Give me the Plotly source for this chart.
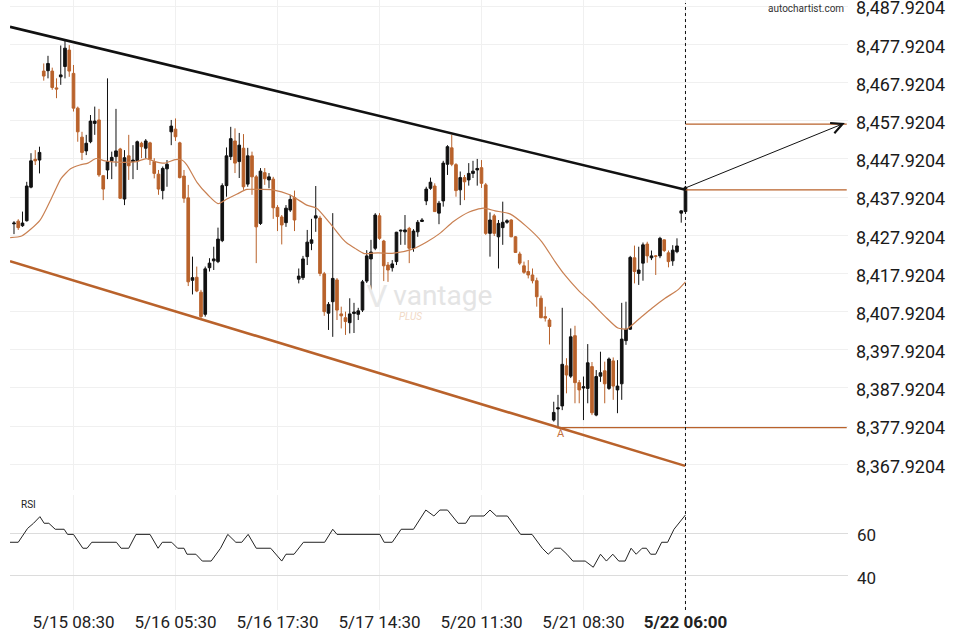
import plotly.graph_objects as go

# ---------------- data ----------------
opens = [8430.9,8431.6,8430.4,8431.7,8440.5,8447.8,8447.6,8470.9,8471.0,8470.9,
         8466.5,8469.4,8472.1,8476.4,8470.3,8461.2,8453.6,8450.0,8452.4,8457.2,
         8458.1,8443.5,8445.0,8447.4,8448.5,8450.5,8437.4,8448.7,8447.2,8447.4,
         8452.0,8450.7,8452.1,8447.2,8443.9,8439.6,8445.3,8455.0,8455.7,8452.1,
         8443.4,8437.7,8416.1,8416.9,8413.0,8407.2,8419.4,8421.2,8421.0,8426.5,
         8440.9,8448.5,8452.6,8447.2,8450.7,8441.3,8448.7,8443.2,8431.0,8444.3,
         8442.4,8442.6,8435.2,8432.7,8431.2,8434.5,8437.8,8416.4,8416.8,8422.3,
         8425.8,8432.4,8432.4,8417.8,8407.5,8410.5,8416.2,8407.3,8406.3,8405.0,
         8407.4,8407.2,8408.3,8415.9,8421.7,8424.5,8433.0,8426.4,8420.1,8419.4,
         8421.0,8429.0,8428.8,8429.7,8424.5,8428.8,8431.5,8436.9,8440.2,8440.8,
         8433.7,8436.9,8446.5,8450.8,8446.4,8439.8,8443.0,8442.4,8444.1,8445.0,
         8445.6,8441.1,8428.4,8433.0,8427.5,8429.9,8431.3,8431.9,8427.5,8423.0,
         8419.9,8418.4,8417.5,8416.0,8411.4,8406.6,8405.7,8379.5,8382.4,8383.2,
         8393.7,8391.0,8401.6,8389.3,8387.9,8387.8,8393.5,8380.8,8391.0,8392.4,
         8387.8,8395.0,8387.4,8389.0,8400.3,8403.3,8422.0,8417.9,8420.6,8425.6,
         8422.0,8422.5,8422.5,8426.7,8423.3,8421.2,8423.6,8433.7,8434.1]
highs = [8431.6,8432.1,8434.1,8441.9,8449.4,8450.2,8451.1,8472.9,8474.9,8471.8,
         8469.0,8477.6,8478.8,8477.7,8472.5,8461.6,8455.0,8454.2,8459.4,8461.6,
         8461.0,8443.7,8469.0,8449.8,8461.0,8450.8,8450.2,8454.2,8451.5,8452.7,
         8452.4,8453.1,8452.4,8448.1,8445.0,8445.9,8447.6,8458.1,8458.5,8452.4,
         8445.0,8441.1,8422.3,8419.7,8413.6,8419.7,8421.9,8424.9,8429.9,8441.5,
         8450.9,8456.3,8455.9,8454.7,8454.4,8450.8,8449.8,8443.7,8445.5,8445.5,
         8444.2,8443.2,8435.8,8433.2,8435.8,8438.5,8439.6,8419.2,8422.5,8429.3,
         8432.2,8440.8,8433.0,8418.3,8410.4,8433.7,8416.7,8409.2,8407.9,8411.4,
         8410.2,8408.9,8416.2,8424.0,8426.7,8433.7,8433.7,8426.7,8420.9,8421.4,
         8428.8,8429.4,8433.2,8430.1,8429.5,8431.9,8432.4,8440.6,8443.0,8441.5,
         8436.9,8447.4,8451.5,8454.2,8446.8,8444.6,8443.7,8446.8,8447.4,8447.9,
         8447.6,8441.6,8433.9,8433.5,8431.9,8436.7,8432.1,8432.1,8427.7,8423.6,
         8421.0,8421.4,8419.2,8416.8,8412.1,8409.2,8406.2,8384.3,8386.1,8408.9,
         8395.7,8403.5,8404.2,8390.0,8390.9,8399.4,8394.7,8392.6,8397.4,8394.8,
         8395.9,8395.9,8395.2,8410.2,8410.5,8422.5,8425.2,8424.9,8426.0,8426.2,
         8423.9,8422.7,8427.5,8426.8,8423.9,8425.3,8427.1,8434.4,8440.8]
lows = [8428.2,8429.3,8430.1,8431.5,8440.2,8446.3,8444.1,8468.4,8469.0,8466.0,
        8463.8,8467.3,8469.0,8469.4,8460.3,8452.4,8447.6,8448.9,8452.0,8454.2,
        8443.2,8437.1,8442.6,8442.6,8445.9,8437.4,8435.8,8442.4,8442.6,8445.0,
        8448.1,8448.0,8446.3,8442.8,8438.5,8437.3,8440.6,8451.5,8452.6,8442.8,
        8436.4,8414.6,8412.4,8413.0,8406.2,8406.6,8418.4,8418.8,8420.6,8426.1,
        8438.0,8447.6,8444.2,8442.9,8439.8,8440.6,8438.5,8420.6,8430.6,8441.1,
        8440.2,8432.2,8429.0,8425.5,8430.1,8434.0,8429.0,8415.3,8416.2,8420.1,
        8424.0,8428.8,8417.2,8406.8,8403.1,8401.3,8405.7,8403.5,8401.8,8402.2,
        8402.3,8405.7,8407.8,8415.4,8413.6,8424.0,8426.7,8415.9,8415.7,8418.4,
        8420.1,8425.4,8425.4,8420.6,8423.6,8427.5,8431.4,8435.8,8439.8,8434.0,
        8430.8,8435.4,8443.7,8446.0,8438.0,8435.8,8437.1,8440.9,8442.9,8440.9,
        8440.3,8428.0,8422.3,8427.7,8419.2,8425.4,8430.9,8427.4,8423.3,8420.1,
        8417.8,8416.6,8415.3,8409.2,8406.2,8405.3,8399.3,8379.1,8377.5,8382.1,
        8386.5,8390.5,8383.9,8383.9,8379.5,8383.9,8380.8,8380.5,8389.5,8383.9,
        8387.4,8384.8,8381.3,8384.8,8399.2,8403.1,8415.3,8414.9,8416.0,8420.7,
        8421.4,8417.5,8421.9,8423.5,8419.5,8419.9,8423.2,8431.2,8434.0]
closes = [8431.1,8429.9,8431.1,8440.8,8447.4,8447.4,8449.6,8469.6,8472.9,8466.6,
          8466.2,8469.9,8476.9,8470.9,8461.2,8455.0,8449.6,8452.0,8457.8,8457.8,
          8443.7,8440.0,8447.2,8448.3,8450.0,8437.6,8448.2,8446.1,8447.6,8452.4,
          8451.1,8452.6,8447.8,8444.1,8440.0,8445.4,8446.5,8456.5,8453.7,8443.0,
          8437.6,8415.7,8416.8,8413.3,8406.6,8419.1,8420.6,8421.7,8426.9,8440.9,
          8448.7,8453.2,8446.8,8451.5,8440.6,8448.7,8443.2,8430.1,8444.7,8442.7,
          8443.2,8435.1,8432.8,8430.6,8435.0,8437.3,8431.9,8417.2,8421.7,8426.1,
          8426.7,8433.0,8417.9,8407.9,8409.8,8416.6,8408.3,8406.8,8405.3,8407.3,
          8407.8,8408.1,8415.7,8422.5,8423.5,8433.2,8427.1,8419.9,8418.8,8420.4,
          8428.7,8429.2,8429.3,8424.5,8429.0,8431.3,8431.9,8440.0,8441.8,8434.1,
          8436.3,8446.8,8451.1,8446.5,8439.6,8443.0,8441.9,8444.1,8444.7,8445.4,
          8441.5,8428.4,8431.9,8428.4,8431.0,8431.3,8431.7,8427.5,8423.4,8420.6,
          8418.2,8417.5,8416.0,8411.8,8406.3,8406.2,8404.0,8381.5,8382.7,8394.1,
          8391.3,8401.3,8389.3,8387.4,8388.2,8394.5,8381.4,8390.9,8391.9,8389.0,
          8395.5,8388.4,8388.4,8400.7,8403.3,8422.1,8418.4,8418.8,8425.4,8422.5,
          8422.5,8422.4,8427.1,8423.9,8421.0,8424.0,8425.1,8434.3,8440.5]
bar_index = list(range(len(closes)))

# moving average
ma_index = [-0.9,1.8,6.1,8.9,11.1,13.3,15.5,17.4,19.3,21.4,25.2,28.9,31.1,33.2,35.5,37.9,39.5,40.7,
            43.1,45.6,48.0,50.1,52.5,54.8,57.9,60.9,64.9,68.9,71.2,74.4,77.2,78.4,80.2,82.4,85.6,
            89.4,93.6,97.2,100.2,103.4,107.1,110.4,113.2,116.7,120.5,124.2,127.3,129.6,132.7,
            136.0,139.1,142.1,144.2,146.8,150.1,153.2,156.2,158.0]
ma_value = [8427.3,8427.7,8431.8,8437.8,8442.8,8445.3,8446.3,8446.8,8448.0,8447.4,8447.0,8447.2,
            8448.0,8447.2,8446.8,8447.7,8447.6,8446.3,8441.7,8438.5,8436.2,8437.4,8438.7,8439.9,
            8439.9,8439.8,8438.5,8435.8,8435.0,8431.0,8427.1,8425.8,8424.5,8423.1,8423.3,8423.2,
            8424.2,8426.2,8428.4,8431.5,8434.0,8435.0,8434.3,8433.5,8430.3,8426.2,8421.0,8417.5,
            8413.6,8410.1,8406.6,8403.6,8403.4,8405.7,8408.8,8411.4,8413.6,8415.7]

# RSI
rsi_index = [-1,1.0,3.2,4.6,6.1,7.1,8.2,9.7,11.8,12.6,14.0,16.2,17.2,18.3,24.1,25.2,27.0,28.7,32.0,
             33.9,34.9,37.1,38.5,40.0,40.7,42.8,44.3,46.4,48.6,50.3,52.2,53.6,55.1,57.0,60.4,63.0,
             64.0,65.9,68.1,73.1,75.0,76.0,86.1,87.1,89.0,91.1,94.0,96.9,98.8,100.2,102.0,104.5,
             106.3,107.4,110.6,112.0,113.5,116.1,119.2,121.9,124.3,125.7,127.2,128.6,130.1,131.5,
             134.4,136.3,138.0,139.4,140.9,142.3,143.8,145.2,146.4,147.8,148.8,149.8,151.0,152.4,
             153.8,155.3,158.0]
rsi_value = [55.8,55.8,62.3,64.7,67.8,64.7,64.7,61.9,61.9,59.5,59.5,53.0,53.0,55.8,55.8,53.0,53.0,
             59.5,59.5,53.0,55.8,55.8,53.0,53.0,50.2,50.2,47.0,47.0,53.0,59.5,55.8,55.8,59.5,53.0,
             53.0,47.0,50.2,50.2,55.8,55.8,61.9,59.5,59.5,55.8,55.8,61.9,61.9,70.9,68.1,70.9,70.9,
             64.7,64.7,68.1,68.1,70.9,68.1,68.1,59.5,59.5,53.0,50.2,53.0,53.0,50.2,47.0,47.0,44.1,
             50.2,47.0,50.2,47.0,47.0,53.0,50.2,53.0,53.0,50.2,50.2,55.8,55.8,61.9,68.6]

# pattern lines
resistance_x = [-0.94, 158]
resistance_y = [8482.5, 8439.8]
support_x = [-0.94, 157.9]
support_y = [8421.1, 8367.5]
breakout_level = 8439.8
target_level = 8457.0
low_level = 8377.5
low_point_index = 128

tick_index = [14, 38, 62, 86, 110, 134, 158]
tick_text = ['5/15 08:30', '5/16 05:30', '5/16 17:30', '5/17 14:30', '5/20 11:30',
             '5/21 08:30', '<b>5/22 06:00</b>']
price_ticks = [8367.9204 + 10 * k for k in range(13)]
rsi_ticks = [40, 60]

ORANGE = '#b9622b'
BLACK = '#111111'
X_RIGHT = 196.24
X_LEFT = -0.94

fig = go.Figure()

# watermark (drawn first, under everything)
fig.add_trace(go.Scatter(x=[85.4], y=[8411.2], mode='text', text=['V'],
                         textfont=dict(family='DejaVu Sans', size=30, color='#e8e8e8'),
                         hoverinfo='skip', showlegend=False, xaxis='x', yaxis='y'))
fig.add_trace(go.Scatter(x=[100.9], y=[8411.6], mode='text', text=['vantage'],
                         textfont=dict(family='Roboto', size=28, color='#e4e4e4'),
                         hoverinfo='skip', showlegend=False, xaxis='x', yaxis='y'))
fig.add_trace(go.Scatter(x=[93.3], y=[8406.3], mode='text', text=['<i>PLUS</i>'],
                         textfont=dict(family='Roboto', size=10, color='#f1d9c6'),
                         hoverinfo='skip', showlegend=False, xaxis='x', yaxis='y'))

# trend lines
fig.add_trace(go.Scatter(x=resistance_x, y=resistance_y, mode='lines',
                         line=dict(color=BLACK, width=2.6), hoverinfo='skip',
                         showlegend=False, xaxis='x', yaxis='y'))
fig.add_trace(go.Scatter(x=support_x, y=support_y, mode='lines',
                         line=dict(color=ORANGE, width=2.6), hoverinfo='skip',
                         showlegend=False, xaxis='x', yaxis='y'))

# horizontal levels
for x0, lvl in [(158, breakout_level), (158, target_level), (low_point_index - 0.3, low_level)]:
    fig.add_trace(go.Scatter(x=[x0, X_RIGHT - 0.3], y=[lvl, lvl], mode='lines',
                             line=dict(color=ORANGE, width=1.2), hoverinfo='skip',
                             showlegend=False, xaxis='x', yaxis='y'))

# moving average
fig.add_trace(go.Scatter(x=ma_index, y=ma_value, mode='lines',
                         line=dict(color='#c98052', width=1.2, shape='spline', smoothing=0.6),
                         hoverinfo='skip', showlegend=False, xaxis='x', yaxis='y'))

# candles
fig.add_trace(go.Candlestick(
    x=bar_index, open=opens, high=highs, low=lows, close=closes,
    increasing=dict(line=dict(color=BLACK, width=1), fillcolor=BLACK),
    decreasing=dict(line=dict(color=ORANGE, width=1), fillcolor=ORANGE),
    whiskerwidth=0, showlegend=False, hoverinfo='skip', xaxis='x', yaxis='y'))

# RSI
fig.add_trace(go.Scatter(x=rsi_index, y=rsi_value, mode='lines',
                         line=dict(color='#222222', width=1), hoverinfo='skip',
                         showlegend=False, xaxis='x2', yaxis='y2'))

fig.update_layout(
    width=960, height=640,
    margin=dict(l=10, r=112, t=0, b=30, autoexpand=False),
    paper_bgcolor='white', plot_bgcolor='white',
    font=dict(family='Roboto', color='#222222'),
    showlegend=False,
    hovermode=False,
    boxgap=0.2, boxgroupgap=0.22,
    xaxis=dict(domain=[0, 1], range=[X_LEFT, X_RIGHT], anchor='y', automargin=False,
               tickvals=tick_index, showticklabels=False, showgrid=True,
               gridcolor='#f0f0f0', gridwidth=1, zeroline=False, showline=False,
               ticks='', rangeslider=dict(visible=False), fixedrange=True),
    xaxis2=dict(domain=[0, 1], range=[X_LEFT, X_RIGHT], anchor='y2', matches='x',
                automargin=False, ticklabeloverflow='allow',
                tickvals=tick_index, ticktext=tick_text, showgrid=True,
                gridcolor='#f0f0f0', zeroline=False, showline=False, ticks='',
                tickfont=dict(family='Roboto', size=17, color='#222222')),
    yaxis=dict(domain=[0.1967, 1], range=[8361.18, 8489.52], side='right', anchor='x',
               automargin=False, ticklabeloverflow='allow', ticklabelshift=2,
               ticklabelstandoff=7,
               tickvals=price_ticks, tickformat=',.4f', showgrid=True,
               gridcolor='#f0f0f0', zeroline=False, showline=False, ticks='',
               tickfont=dict(family='Roboto', size=18, color='#1a1a1a')),
    yaxis2=dict(domain=[0, 0.1885], range=[24.07, 77.94], side='right', anchor='x2',
                automargin=False, ticklabeloverflow='allow', ticklabelshift=2,
                ticklabelstandoff=8,
                tickvals=rsi_ticks, showgrid=True, gridcolor='#dcdcdc',
                zeroline=False, showline=False, ticks='',
                tickfont=dict(family='Roboto', size=17, color='#222222')),
    shapes=[dict(type='line', xref='x', yref='paper', x0=158, x1=158, y0=0, y1=0.995,
                 line=dict(color='#111111', width=1, dash='dot'))],
    annotations=[
        dict(x=X_RIGHT - 0.5, y=8487.4, xref='x', yref='y', text='autochartist.com',
             showarrow=False, xanchor='right', yanchor='middle',
             font=dict(family='Roboto', size=10, color='#333333')),
        dict(x=1.2, y=73.3, xref='x2', yref='y2', text='RSI', showarrow=False,
             xanchor='left', yanchor='middle',
             font=dict(family='Roboto', size=10, color='#222222')),
        dict(x=low_point_index + 0.7, y=8376.0, xref='x', yref='y', text='A',
             showarrow=False, xanchor='center', yanchor='middle',
             font=dict(family='Roboto', size=11, color='#c2703c')),
        dict(x=195.5, y=target_level + 0.3, xref='x', yref='y', ax=158, ay=breakout_level + 0.5,
             axref='x', ayref='y', text='', showarrow=True, arrowhead=5, arrowsize=2.2,
             arrowwidth=1, arrowcolor='#111111', standoff=0, startstandoff=0),
    ],
)

fig.write_html('out.html', config={'displayModeBar': False},
               post_script="document.body.style.margin='0';")
